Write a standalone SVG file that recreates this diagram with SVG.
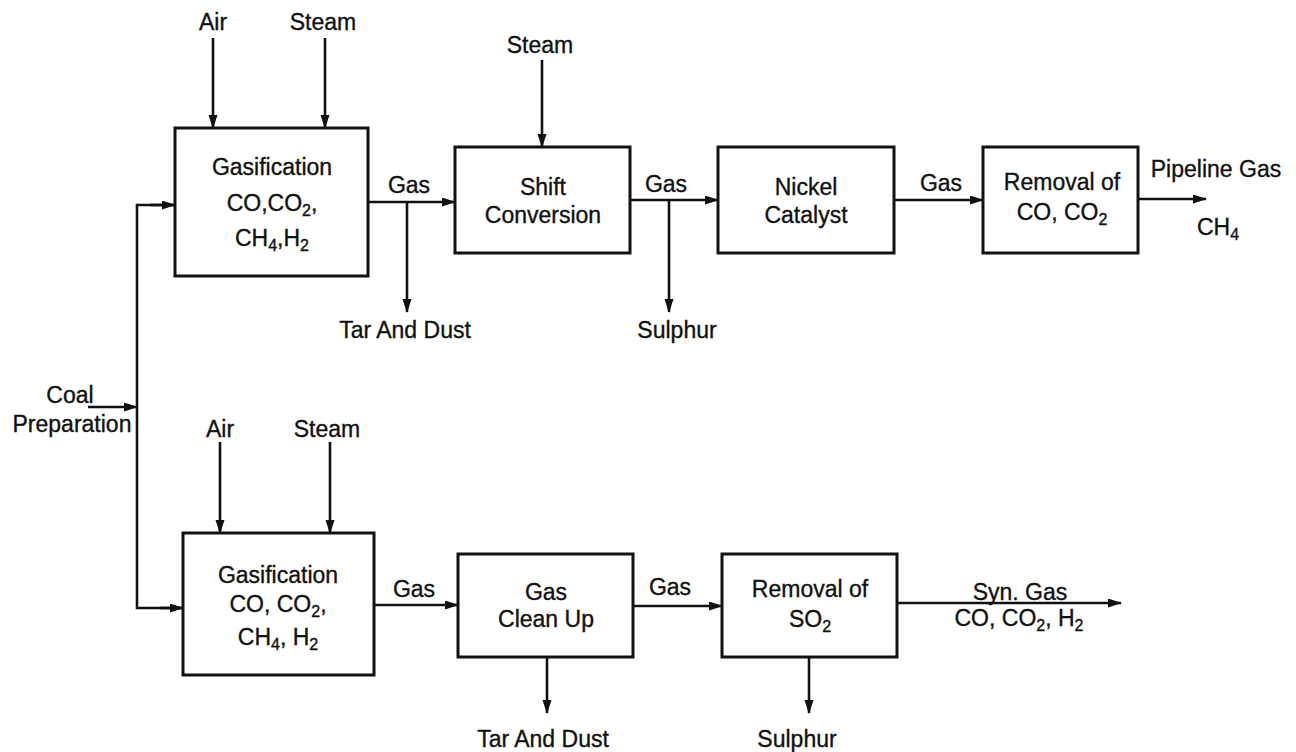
<svg xmlns="http://www.w3.org/2000/svg" width="1296" height="752" viewBox="0 0 1296 752">
<defs>
<style>
text{font-family:"Liberation Sans",Arial,Helvetica,sans-serif;font-size:23px;fill:#111;stroke:#111;stroke-width:0.35;}
.c{text-anchor:middle;}
.box{fill:#fff;stroke:#111;stroke-width:3;}
.ln{fill:none;stroke:#111;stroke-width:2.6;}
.ar{marker-end:url(#ah);}
.s{font-size:16px;}
</style>
<marker id="ah" markerUnits="userSpaceOnUse" markerWidth="14" markerHeight="10" refX="13" refY="4.5" orient="auto">
<path d="M0,0 L14,4.5 L0,9 Z" fill="#111"/>
</marker>
</defs>
<rect width="1296" height="752" fill="#fff"/>

<g id="connectors">
<line class="ln ar" x1="213" y1="38" x2="213" y2="128"/>
<line class="ln ar" x1="325" y1="38" x2="325" y2="128"/>
<line class="ln ar" x1="542" y1="60" x2="542" y2="147"/>
<line class="ln ar" x1="88" y1="407" x2="137" y2="407"/>
<polyline class="ln" points="175,205 137,205 137,608 183,608"/>
<line class="ln ar" x1="150" y1="205" x2="175" y2="205"/>
<line class="ln ar" x1="160" y1="608" x2="183" y2="608"/>
<line class="ln ar" x1="368" y1="202" x2="455" y2="202"/>
<line class="ln ar" x1="407" y1="202" x2="407" y2="312"/>
<line class="ln ar" x1="630" y1="200" x2="718" y2="200"/>
<line class="ln ar" x1="669" y1="200" x2="669" y2="312"/>
<line class="ln ar" x1="894" y1="200" x2="983" y2="200"/>
<line class="ln ar" x1="1138" y1="199" x2="1206" y2="199"/>
<line class="ln ar" x1="220" y1="442" x2="220" y2="533"/>
<line class="ln ar" x1="330" y1="442" x2="330" y2="533"/>
<line class="ln ar" x1="374" y1="605" x2="458" y2="605"/>
<line class="ln ar" x1="547" y1="657" x2="547" y2="713"/>
<line class="ln ar" x1="633" y1="606" x2="722" y2="606"/>
<line class="ln ar" x1="809" y1="657" x2="809" y2="713"/>
<line class="ln ar" x1="897" y1="603" x2="1121" y2="603"/>
</g>

<g id="labels">
<text class="c" x="213" y="30">Air</text>
<text class="c" x="323" y="30">Steam</text>
<text class="c" x="540" y="53">Steam</text>
<text class="c" x="409" y="193">Gas</text>
<text class="c" x="405" y="338">Tar And Dust</text>
<text class="c" x="666" y="192">Gas</text>
<text class="c" x="677" y="338">Sulphur</text>
<text class="c" x="941" y="191">Gas</text>
<text class="c" x="1216" y="177">Pipeline Gas</text>
<text x="1197" y="235">CH<tspan class="s" dy="5">4</tspan></text>
<text class="c" x="70" y="403">Coal</text>
<text class="c" x="72" y="432">Preparation</text>
<text class="c" x="220" y="437">Air</text>
<text class="c" x="327" y="437">Steam</text>
<text class="c" x="414" y="597">Gas</text>
<text class="c" x="543" y="747">Tar And Dust</text>
<text class="c" x="670" y="595">Gas</text>
<text class="c" x="797" y="747">Sulphur</text>
<text class="c" x="1020" y="600">Syn. Gas</text>
<text class="c" x="1019" y="626">CO, CO<tspan class="s" dy="5">2</tspan><tspan dy="-5">, H</tspan><tspan class="s" dy="5">2</tspan></text>
</g>

<g id="node-gasification-top">
<rect class="box" x="175" y="128" width="193" height="148"/>
<text class="c" x="272" y="175">Gasification</text>
<text class="c" x="272" y="211">CO,CO<tspan class="s" dy="5">2</tspan><tspan dy="-5">,</tspan></text>
<text class="c" x="272" y="246">CH<tspan class="s" dy="5">4</tspan><tspan dy="-5">,H</tspan><tspan class="s" dy="5">2</tspan></text>
</g>

<g id="node-shift">
<rect class="box" x="455" y="147" width="175" height="106"/>
<text class="c" x="543" y="195">Shift</text>
<text class="c" x="543" y="223">Conversion</text>
</g>

<g id="node-nickel">
<rect class="box" x="718" y="147" width="176" height="106"/>
<text class="c" x="806" y="195">Nickel</text>
<text class="c" x="806" y="223">Catalyst</text>
</g>

<g id="node-removal-co">
<rect class="box" x="983" y="147" width="155" height="106"/>
<text class="c" x="1062" y="190">Removal of</text>
<text class="c" x="1062" y="220">CO, CO<tspan class="s" dy="5">2</tspan></text>
</g>

<g id="node-gasification-bottom">
<rect class="box" x="183" y="533" width="191" height="142"/>
<text class="c" x="278" y="583">Gasification</text>
<text class="c" x="278" y="612">CO, CO<tspan class="s" dy="5">2</tspan><tspan dy="-5">,</tspan></text>
<text class="c" x="278" y="645">CH<tspan class="s" dy="5">4</tspan><tspan dy="-5">, H</tspan><tspan class="s" dy="5">2</tspan></text>
</g>

<g id="node-cleanup">
<rect class="box" x="458" y="554" width="175" height="103"/>
<text class="c" x="546" y="600">Gas</text>
<text class="c" x="546" y="627">Clean Up</text>
</g>

<g id="node-removal-so2">
<rect class="box" x="722" y="554" width="175" height="103"/>
<text class="c" x="810" y="597">Removal of</text>
<text class="c" x="810" y="627">SO<tspan class="s" dy="5">2</tspan></text>
</g>
</svg>
